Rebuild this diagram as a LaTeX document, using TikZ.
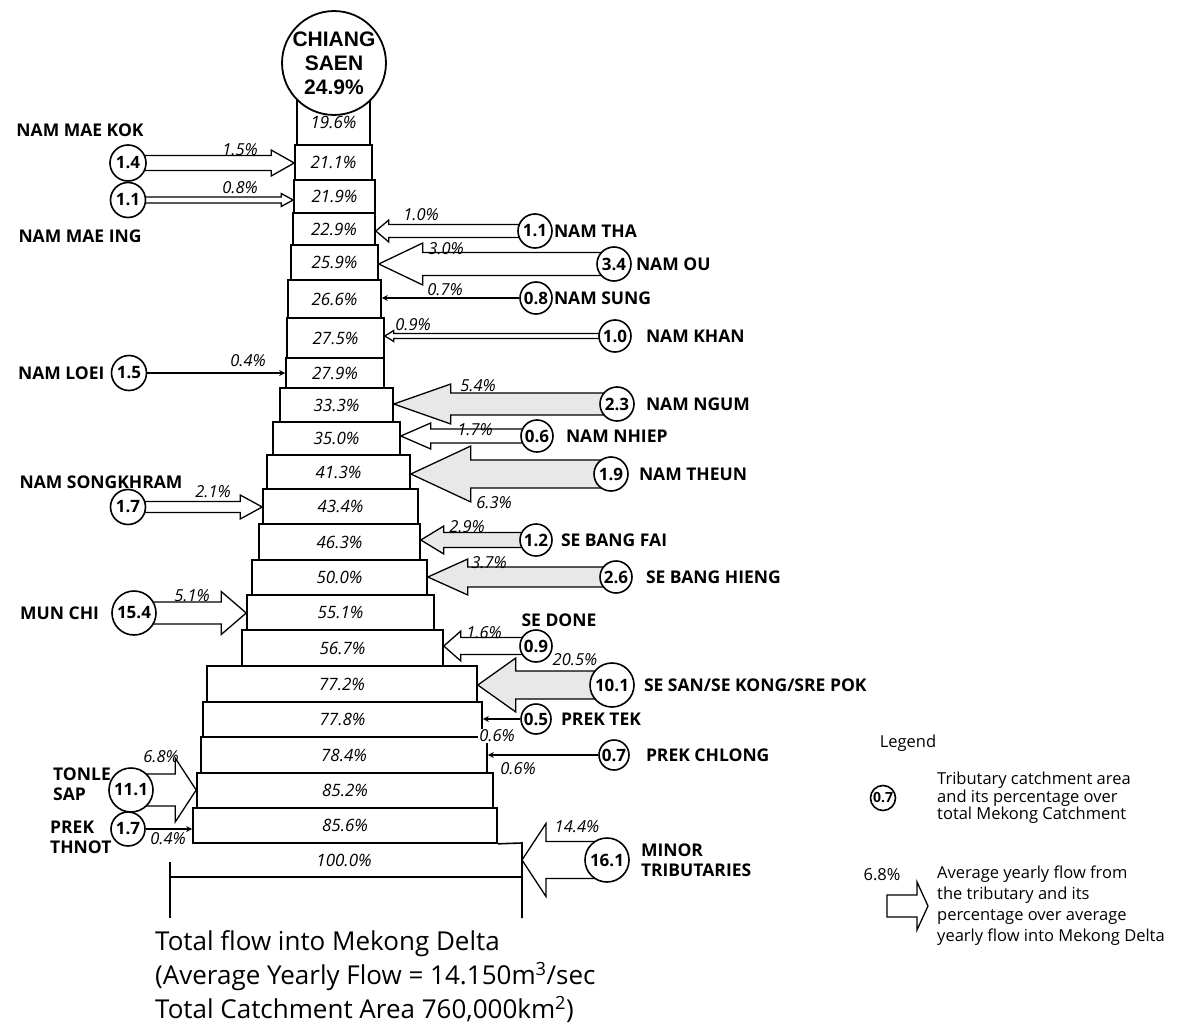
\documentclass[tikz,border=0pt]{standalone}
\usepackage{fontspec}
\setmainfont{Open Sans}
\newfontfamily\gaugefont{Liberation Sans}
\usetikzlibrary{positioning,arrows.meta,calc,backgrounds}

\newcommand\tierfont{\fontsize{17}{19}\selectfont\itshape}
\newcommand\sharefont{\fontsize{16.5}{18}\selectfont\itshape}
\newcommand\namefont{\fontsize{17.5}{20}\selectfont\bfseries}
\newcommand\areafont{\fontsize{17}{18}\selectfont\bfseries}
\newcommand\keyfont{\fontsize{16.5}{17.5}\selectfont}

\tikzset{
  tier/.style={draw,line width=1.6pt,inner sep=0pt,font=\tierfont},
  rim/.style={line width=1.6pt},
  catch/.style={circle,draw,line width=1.6pt,fill=white,inner sep=0pt,
    minimum size=35pt,font=\areafont},
  trib/.style={inner sep=0pt,font=\namefont,align=left},
  share/.style={inner sep=0pt,font=\sharefont},
  flow/.style={draw,line width=1.3pt,fill=white,line join=miter},
  flow-gray/.style={flow,fill=gray!18},
  feed/.style={line width=2.4pt,-{Stealth[length=6pt,width=6pt]}},
}

% hollow block arrow: circle centre -> tier edge
% #2 circle, #3 tip, #4 shaft half, #5 head half, #6 head length
\newcommand\flowin[6][flow]{%
  \draw[#1] let \p1=(#2), \p2=(#3), \n1={sign(\x2-\x1)} in
    ({\x1},{\y1+#4pt}) -- ({\x2-(\n1)*#6pt},{\y1+#4pt}) -- ({\x2-(\n1)*#6pt},{\y1+#5pt})
    -- (\x2,\y1) -- ({\x2-(\n1)*#6pt},{\y1-#5pt}) -- ({\x2-(\n1)*#6pt},{\y1-#4pt})
    -- ({\x1},{\y1-#4pt}) -- cycle;}

\begin{document}
\begin{tikzpicture}[x=1pt,y=-1pt]
  \useasboundingbox (0,0) rectangle (1200,1030);

  % the main stem, top to bottom
  \node[tier,minimum width=73,minimum height=45] (t1) at (333.5,122.5) {19.6\%};
  \node[tier,minimum width=77,minimum height=35] (t2) at (333.5,162.5) {21.1\%};
  \node[tier,minimum width=81,minimum height=33] (t3) at (334.5,196.5) {21.9\%};
  \node[tier,minimum width=82,minimum height=32] (t4) at (334,229) {22.9\%};
  \node[tier,minimum width=87,minimum height=35] (t5) at (334.5,262.5) {25.9\%};
  \node[tier,minimum width=93,minimum height=38] (t6) at (334.5,299) {26.6\%};
  \node[tier,minimum width=97,minimum height=40] (t7) at (335.5,338) {27.5\%};
  \node[tier,minimum width=98,minimum height=30] (t8) at (335,373) {27.9\%};
  \node[tier,minimum width=113,minimum height=34] (t9) at (336.5,405) {33.3\%};
  \node[tier,minimum width=127,minimum height=33] (t10) at (336.5,438.5) {35.0\%};
  \node[tier,minimum width=143,minimum height=34] (t11) at (338.5,472) {41.3\%};
  \node[tier,minimum width=155,minimum height=35] (t12) at (340.5,506.5) {43.4\%};
  \node[tier,minimum width=161,minimum height=36] (t13) at (339.5,542) {46.3\%};
  \node[tier,minimum width=175,minimum height=35] (t14) at (339.5,577.5) {50.0\%};
  \node[tier,minimum width=187,minimum height=35] (t15) at (340.5,612.5) {55.1\%};
  \node[tier,minimum width=201,minimum height=36] (t16) at (342.5,648) {56.7\%};
  \node[tier,minimum width=270,minimum height=36] (t17) at (342,684) {77.2\%};
  \node[tier,minimum width=279,minimum height=35] (t18) at (342.5,719.5) {77.8\%};
  \node[tier,minimum width=286,minimum height=36] (t19) at (344,755) {78.4\%};
  \node[tier,minimum width=296,minimum height=35] (t20) at (345,790.5) {85.2\%};
  \node[tier,minimum width=304,minimum height=35] (t21) at (345,825.5) {85.6\%};
  \node[tier,draw=none] (t22) at (344,860) {100.0\%};

  \coordinate (delta-ne) at (522,843);
  \coordinate (delta-e) at (522,860);
  \coordinate (delta-se) at (522,918);
  \coordinate (delta-sw) at (170,918);
  \draw[rim] (t21.south east) -- (delta-ne) -- (delta-se);
  \draw[rim] (delta-sw) -- ++(0,-56);
  \draw[rim] (170,877) -- (522,877);

  \node[catch,minimum size=100pt,line width=1.8pt,align=center,
    font=\gaugefont\bfseries\fontsize{21}{24}\selectfont] (saen) at (334,63)
    {CHIANG\\SAEN\\24.9\%};

  % catchment circles
  \node[catch,minimum size=36pt] (kok) at (128,163) {1.4};
  \node[catch] (ing) at (128,200) {1.1};
  \node[catch] (loei) at (129,373) {1.5};
  \node[catch] (songkhram) at (128,507) {1.7};
  \node[catch,minimum size=44pt] (munchi) at (134,613) {15.4};
  \node[catch,minimum size=44pt] (tonlesap) at (131,790) {11.1};
  \node[catch,minimum size=34pt] (thnot) at (128,829) {1.7};
  \node[catch,minimum size=34pt] (tha) at (535,231) {1.1};
  \node[catch,minimum size=34pt] (ou) at (614,264) {3.4};
  \node[catch,minimum size=32pt] (sung) at (536,298) {0.8};
  \node[catch,minimum size=32pt] (khan) at (615,336) {1.0};
  \node[catch,minimum size=34pt] (ngum) at (617,404) {2.3};
  \node[catch,minimum size=32pt] (nhiep) at (537,436) {0.6};
  \node[catch,minimum size=34pt] (theun) at (611,474) {1.9};
  \node[catch,minimum size=32pt] (bangfai) at (536,540) {1.2};
  \node[catch,minimum size=32pt] (banghieng) at (616,577) {2.6};
  \node[catch,minimum size=32pt] (sedone) at (536,646) {0.9};
  \node[catch,minimum size=44pt] (sesan) at (612,685) {10.1};
  \node[catch,minimum size=30pt] (prektek) at (536,719) {0.5};
  \node[catch,minimum size=30pt] (prekchlong) at (614,755) {0.7};
  \node[catch,minimum size=44pt] (minor) at (607,860) {16.1};

  % tributary names
  \node[trib] (kok-name) at (80,130) {NAM MAE KOK};
  \node[trib] (ing-name) at (80,236) {NAM MAE ING};
  \node[trib,left=6pt of loei] (loei-name) {NAM LOEI};
  \node[trib] (songkhram-name) at (101,482) {NAM SONGKHRAM};
  \node[trib,left=12pt of munchi] (munchi-name) {MUN CHI};
  \node[trib,anchor=west] (tonlesap-name) at (53,784) {TONLE\\SAP};
  \node[trib,anchor=west] (thnot-name) at (50,837) {PREK\\THNOT};
  \node[trib,right=1pt of tha] (tha-name) {NAM THA};
  \node[trib,right=4pt of ou] (ou-name) {NAM OU};
  \node[trib,right=1pt of sung] (sung-name) {NAM SUNG};
  \node[trib,right=14pt of khan] (khan-name) {NAM KHAN};
  \node[trib,right=11pt of ngum] (ngum-name) {NAM NGUM};
  \node[trib,right=12pt of nhiep] (nhiep-name) {NAM NHIEP};
  \node[trib,right=10pt of theun] (theun-name) {NAM THEUN};
  \node[trib,right=8pt of bangfai] (bangfai-name) {SE BANG FAI};
  \node[trib,right=13pt of banghieng] (banghieng-name) {SE BANG HIENG};
  \node[trib] (sedone-name) at (559,620) {SE DONE};
  \node[trib,right=9pt of sesan] (sesan-name) {SE SAN/SE KONG/SRE POK};
  \node[trib,right=9pt of prektek] (prektek-name) {PREK TEK};
  \node[trib,right=16pt of prekchlong] (prekchlong-name) {PREK CHLONG};
  \node[trib,right=11pt of minor] (minor-name) {MINOR\\TRIBUTARIES};

  % flow shares
  \node[share] (kok-pct) at (240,150) {1.5\%};
  \node[share] (ing-pct) at (240,188) {0.8\%};
  \node[share] (loei-pct) at (248,361) {0.4\%};
  \node[share] (songkhram-pct) at (213,492) {2.1\%};
  \node[share] (munchi-pct) at (192,596) {5.1\%};
  \node[share] (tonlesap-pct) at (161,757) {6.8\%};
  \node[share] (thnot-pct) at (168,839) {0.4\%};
  \node[share] (tha-pct) at (421,215) {1.0\%};
  \node[share] (ou-pct) at (446,249) {3.0\%};
  \node[share] (sung-pct) at (445,290) {0.7\%};
  \node[share] (khan-pct) at (413,325) {0.9\%};
  \node[share] (ngum-pct) at (478,386) {5.4\%};
  \node[share] (nhiep-pct) at (475,430) {1.7\%};
  \node[share] (theun-pct) at (494,503) {6.3\%};
  \node[share] (bangfai-pct) at (467,527) {2.9\%};
  \node[share] (banghieng-pct) at (489,563) {3.7\%};
  \node[share] (sedone-pct) at (484,633) {1.6\%};
  \node[share] (sesan-pct) at (575,660) {20.5\%};
  \node[share,fill=white,inner sep=1pt] (prektek-pct) at (497,736) {0.6\%};
  \node[share] (prekchlong-pct) at (518,769) {0.6\%};
  \node[share] (minor-pct) at (577,827) {14.4\%};

  \begin{scope}[on background layer]
    \flowin{kok}{t2.west}{7.5}{13}{23}
    \flowin{ing}{t3.west}{3}{6.5}{12}
    \draw[feed] (loei) -- (loei -| t8.west);
    \flowin{songkhram}{t12.west}{5.5}{12}{22}
    \flowin{munchi}{t15.west}{11}{21.5}{25}
    \flowin{tonlesap}{t20.west}{16}{32}{21}
    \draw[feed] (thnot) -- (thnot -| t21.west);
    \flowin{tha}{t4.east}{6.5}{11}{13}
    \flowin{ou}{t5.east}{11.5}{21}{44}
    \draw[feed] (sung) -- (sung -| t6.east);
    \flowin{khan}{t7.east}{2.5}{5.5}{9}
    \flowin[flow-gray]{ngum}{t9.east}{11}{20}{57}
    \flowin{nhiep}{t10.east}{7}{13}{30}
    \flowin[flow-gray]{theun}{t11.east}{14}{28}{60}
    \flowin[flow-gray]{bangfai}{t13.east}{7.5}{14}{23}
    \flowin[flow-gray]{banghieng}{t14.east}{10}{18}{40}
    \flowin{sedone}{t16.east}{8.5}{15}{17}
    \flowin[flow-gray]{sesan}{t17.east}{14}{27}{38}
    \draw[feed] (prektek) -- (prektek -| t18.east);
    \draw[feed] (prekchlong) -- (prekchlong -| t19.east);
    \flowin{minor}{delta-e}{18.5}{36.5}{24}
  \end{scope}

  % total
  \node[anchor=west,align=left,inner sep=0pt,font=\fontsize{26}{34}\selectfont]
    (total) at (155,977) {Total flow into Mekong Delta\\
    (Average Yearly Flow = 14.150m\textsuperscript{3}/sec\\
    Total Catchment Area 760,000km\textsuperscript{2})};

  % legend
  \node[inner sep=0pt,font=\keyfont] (key) at (908,743) {Legend};
  \node[catch,minimum size=25pt,font=\fontsize{14}{16}\selectfont\bfseries] (key-catch) at (883,798) {0.7};
  \node[anchor=west,align=left,inner sep=0pt,font=\keyfont] (key-catch-text) at (937,798)
    {Tributary catchment area\\and its percentage over\\total Mekong Catchment};
  \coordinate (key-tail) at (887,906);
  \coordinate (key-tip) at (928,906);
  \flowin{key-tail}{key-tip}{11}{24}{11}
  \node[inner sep=0pt,font=\keyfont] (key-pct) at (882,875) {6.8\%};
  \node[anchor=west,align=left,inner sep=0pt,font=\fontsize{16.5}{21}\selectfont] (key-flow-text) at (937,906)
    {Average yearly flow from\\the tributary and its\\percentage over average\\yearly flow into Mekong Delta};
\end{tikzpicture}
\end{document}
